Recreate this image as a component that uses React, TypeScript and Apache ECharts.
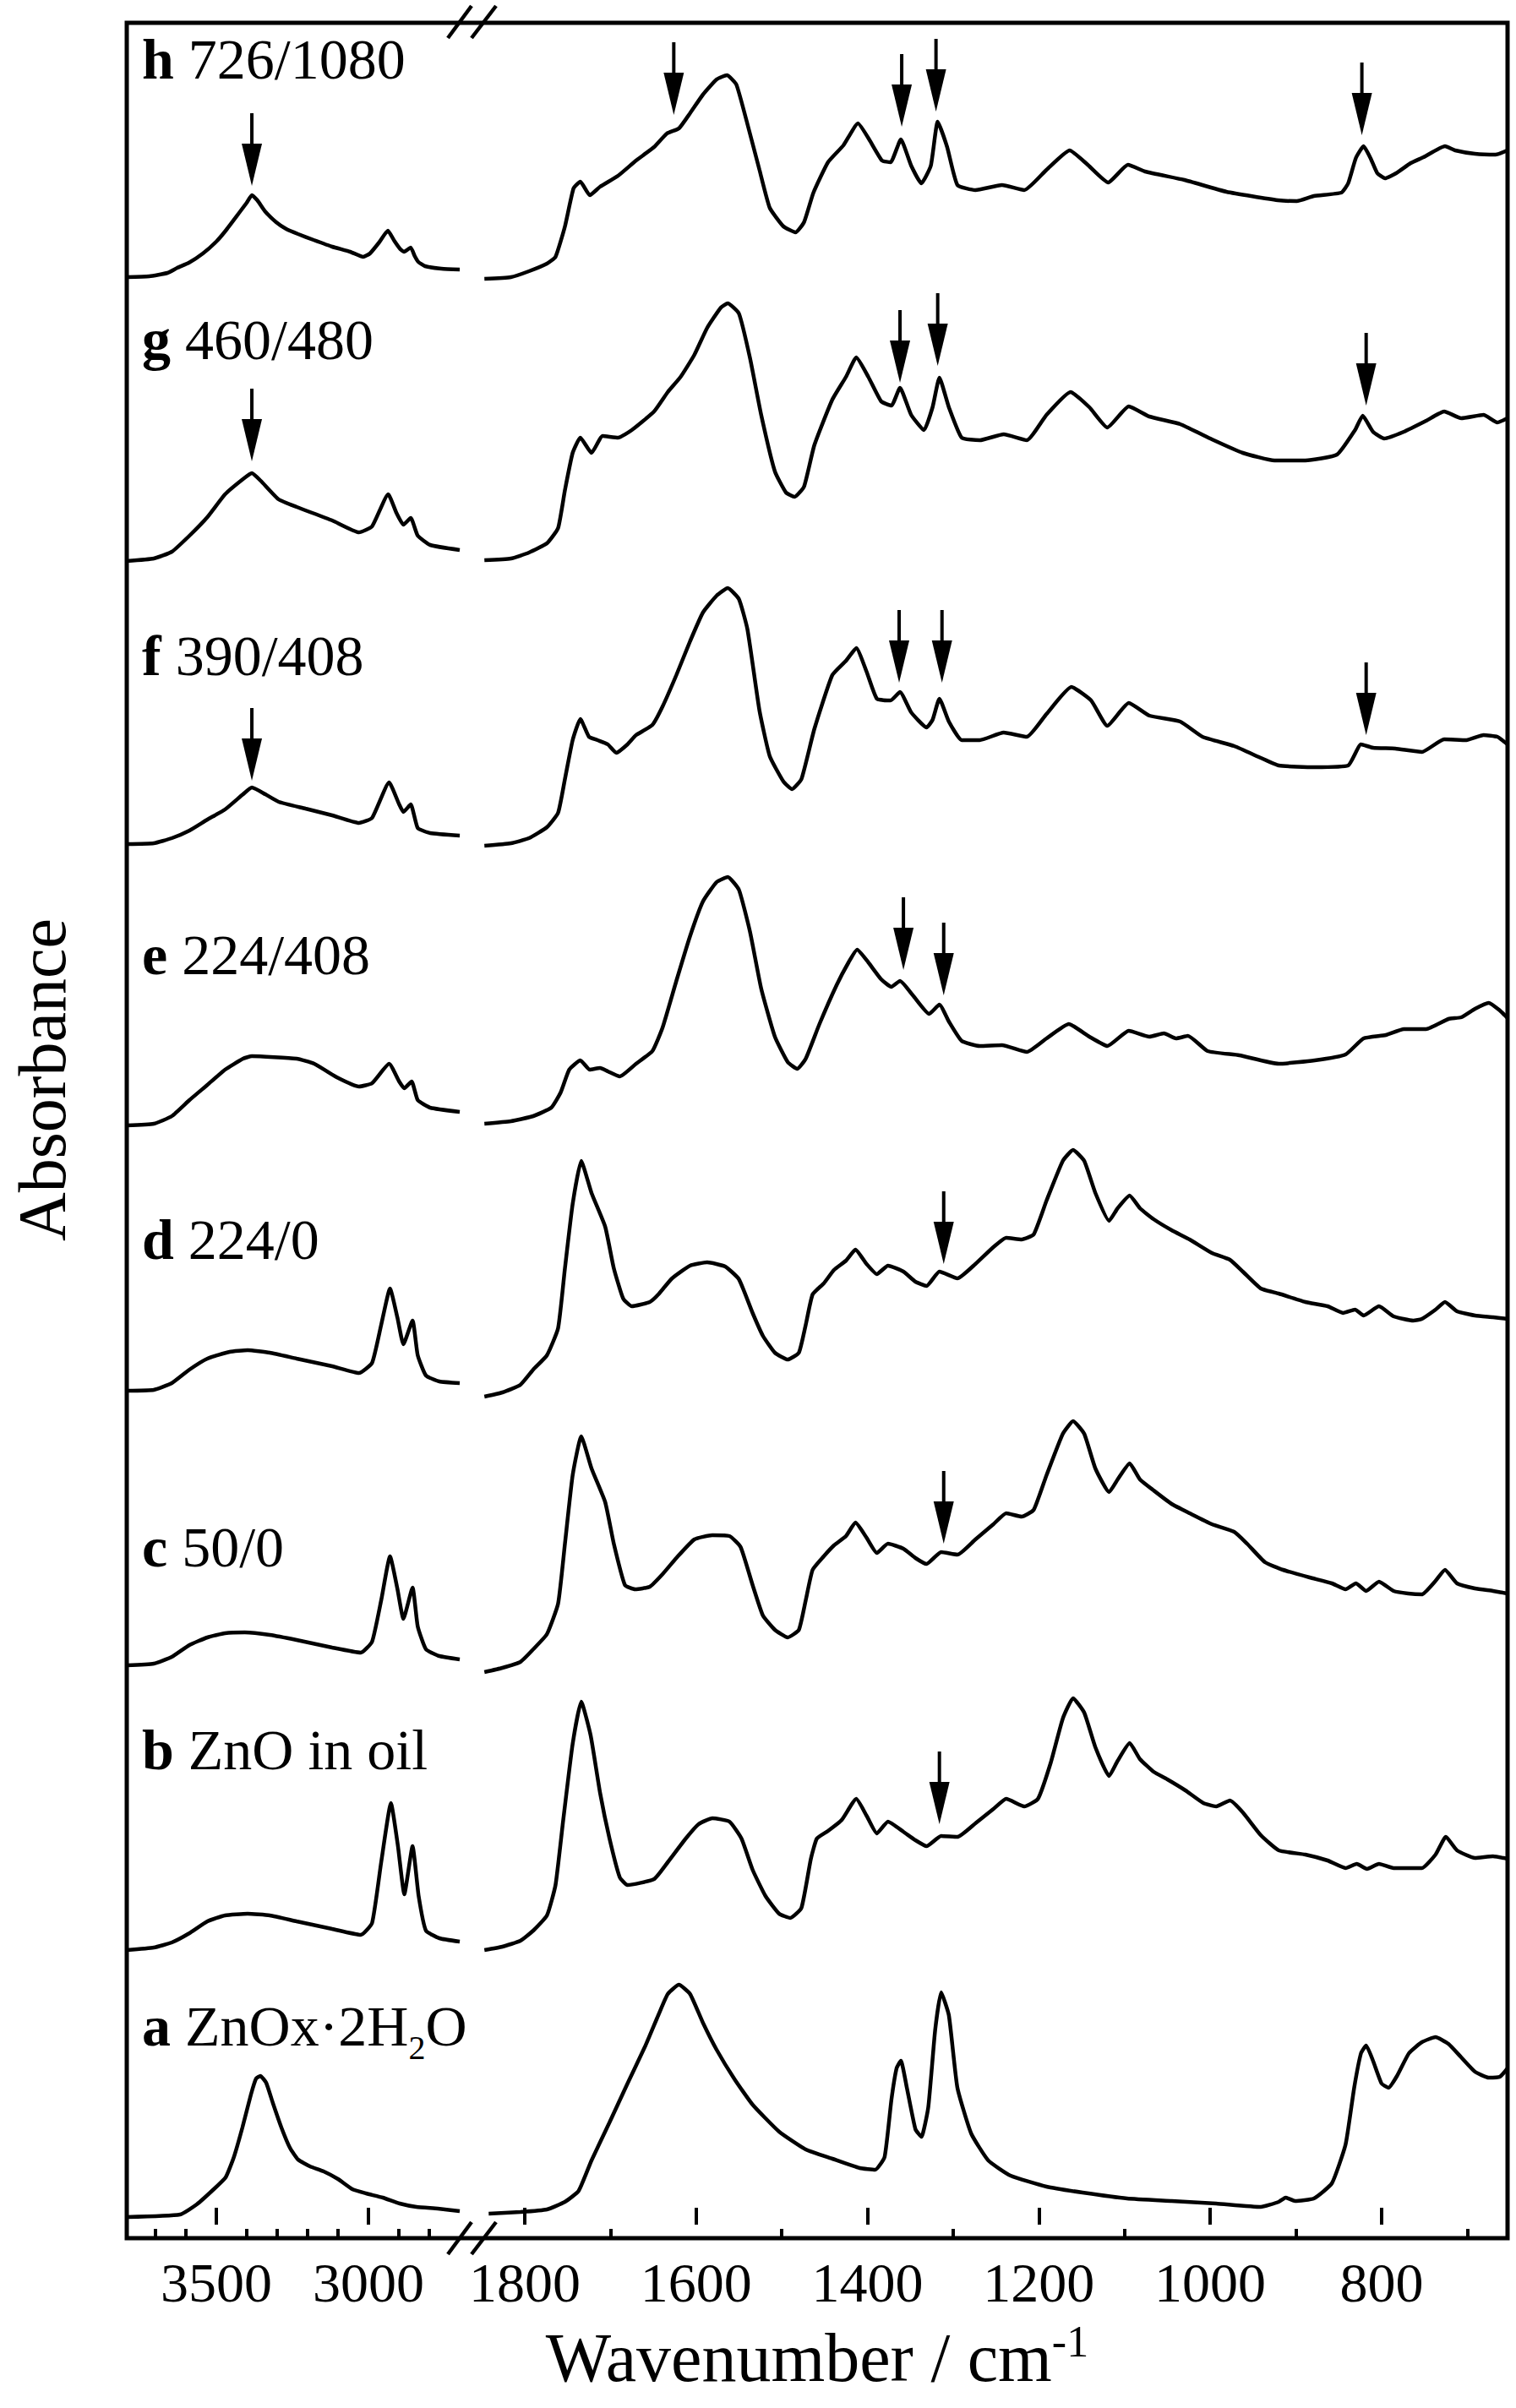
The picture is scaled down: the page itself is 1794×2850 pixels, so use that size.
import React, { useEffect, useRef } from 'react';
import * as echarts from 'echarts';

const FONT = '"Liberation Serif", "Times New Roman", serif';

// ---- axis ticks (wavenumber, cm-1) ----
const leftMajorTicks = [3500, 3000];
const leftMinorTicks = [3700, 3600, 3400, 3300, 3200, 3100, 2900, 2800];
const rightMajorTicks = [1800, 1600, 1400, 1200, 1000, 800];
const rightMinorTicks = [1700, 1500, 1300, 1100, 900, 700];

// ---- sample labels (top to bottom) ----
const sampleLetters = ['h', 'g', 'f', 'e', 'd', 'c', 'b', 'a'];
const sampleNames = ['726/1080', '460/480', '390/408', '224/408', '224/0', '50/0', 'ZnO in oil', 'ZnOx·2H2O'];

// ---- spectra: [wavenumber, absorbance (offset, a.u.)] ----
const hLeft = [[3794,2305],[3720,2306],[3660,2310],[3628,2316],[3590,2322],[3544,2333],[3500,2347],[3469,2360],[3425,2381],[3400,2393],[3383,2402],[3365,2396],[3340,2383],[3303,2370],[3270,2362],[3231,2356],[3180,2349],[3119,2341],[3060,2335],[3017,2329],[2995,2333],[2965,2346],[2936,2360],[2915,2348],[2895,2338],[2883,2335],[2861,2340],[2848,2330],[2836,2323],[2814,2318],[2760,2315],[2700,2314]];
const hRight = [[1847,2303],[1816,2305],[1795,2312],[1774,2321],[1764,2329],[1753,2365],[1743,2410],[1735,2418],[1724,2402],[1712,2412],[1691,2425],[1670,2443],[1649,2459],[1634,2475],[1620,2481],[1607,2499],[1592,2521],[1576,2539],[1564,2544],[1553,2533],[1540,2486],[1526,2432],[1514,2387],[1498,2365],[1484,2358],[1474,2370],[1463,2405],[1446,2441],[1428,2461],[1411,2487],[1398,2468],[1383,2443],[1373,2441],[1361,2468],[1349,2437],[1337,2416],[1326,2437],[1318,2489],[1307,2459],[1295,2414],[1274,2408],[1243,2414],[1217,2408],[1191,2432],[1164,2455],[1144,2439],[1119,2417],[1096,2438],[1076,2430],[1030,2420],[981,2406],[921,2396],[899,2395],[879,2401],[847,2405],[839,2416],[830,2446],[821,2460],[813,2446],[805,2428],[796,2422],[783,2428],[766,2440],[751,2447],[726,2460],[714,2455],[691,2451],[667,2450],[653,2455]];

const gLeft = [[3794,1969],[3705,1972],[3646,1980],[3588,1999],[3529,2021],[3471,2048],[3412,2066],[3383,2073],[3354,2064],[3295,2042],[3236,2033],[3119,2017],[3031,2003],[2988,2010],[2935,2048],[2908,2026],[2885,2012],[2861,2020],[2838,1999],[2797,1988],[2700,1982]];
const gRight = [[1847,1970],[1816,1972],[1795,1979],[1774,1990],[1761,2008],[1753,2053],[1744,2097],[1735,2115],[1722,2097],[1709,2117],[1691,2115],[1675,2124],[1649,2146],[1633,2169],[1618,2187],[1602,2213],[1587,2245],[1571,2269],[1563,2274],[1550,2262],[1537,2209],[1524,2142],[1508,2075],[1495,2050],[1485,2045],[1474,2057],[1462,2106],[1441,2160],[1425,2187],[1413,2210],[1399,2187],[1384,2158],[1372,2153],[1362,2174],[1349,2142],[1334,2124],[1324,2151],[1316,2186],[1305,2151],[1290,2115],[1269,2112],[1241,2119],[1214,2112],[1191,2142],[1163,2169],[1141,2151],[1120,2127],[1095,2152],[1071,2140],[1035,2131],[998,2113],[962,2097],[925,2088],[889,2088],[852,2095],[831,2124],[822,2141],[810,2122],[797,2114],[774,2122],[748,2135],[727,2146],[707,2138],[681,2142],[665,2133],[653,2138]];

const fLeft = [[3794,1634],[3705,1635],[3646,1641],[3588,1650],[3529,1663],[3471,1675],[3412,1693],[3383,1701],[3339,1693],[3295,1684],[3207,1676],[3119,1668],[3031,1659],[2988,1665],[2932,1707],[2899,1681],[2885,1672],[2861,1681],[2838,1653],[2797,1647],[2700,1644]];
const fRight = [[1847,1632],[1816,1635],[1795,1641],[1774,1654],[1761,1671],[1753,1711],[1744,1757],[1735,1782],[1725,1761],[1715,1757],[1703,1752],[1693,1742],[1680,1752],[1670,1763],[1651,1775],[1639,1797],[1623,1834],[1607,1874],[1592,1908],[1576,1928],[1563,1937],[1550,1924],[1540,1888],[1526,1792],[1514,1738],[1498,1708],[1488,1699],[1477,1711],[1462,1770],[1441,1834],[1425,1851],[1413,1866],[1401,1838],[1389,1806],[1373,1804],[1362,1814],[1349,1790],[1331,1772],[1324,1781],[1316,1806],[1305,1779],[1290,1757],[1269,1757],[1241,1766],[1214,1761],[1191,1788],[1162,1820],[1139,1804],[1120,1774],[1095,1801],[1071,1786],[1035,1779],[1009,1761],[972,1750],[941,1736],[920,1727],[878,1725],[839,1727],[824,1752],[810,1748],[784,1747],[753,1743],[727,1758],[701,1757],[681,1763],[665,1761],[653,1752]];

const eLeft = [[3794,1301],[3705,1303],[3646,1312],[3588,1331],[3529,1349],[3471,1367],[3412,1380],[3383,1383],[3236,1380],[3178,1374],[3104,1358],[3031,1347],[2988,1351],[2932,1374],[2899,1353],[2882,1345],[2858,1353],[2838,1331],[2797,1322],[2700,1317]];
const eRight = [[1847,1303],[1816,1306],[1790,1312],[1769,1322],[1758,1340],[1748,1367],[1735,1378],[1724,1367],[1712,1369],[1703,1365],[1689,1359],[1670,1374],[1651,1389],[1639,1417],[1623,1472],[1607,1525],[1592,1566],[1576,1589],[1563,1595],[1550,1580],[1537,1530],[1524,1463],[1508,1406],[1493,1376],[1482,1368],[1472,1380],[1456,1421],[1436,1467],[1422,1494],[1412,1509],[1399,1494],[1384,1474],[1372,1465],[1362,1472],[1347,1455],[1328,1433],[1316,1444],[1305,1424],[1290,1401],[1269,1395],[1243,1396],[1214,1388],[1191,1404],[1165,1421],[1141,1406],[1120,1395],[1095,1413],[1071,1406],[1054,1410],[1040,1404],[1026,1407],[1003,1389],[966,1384],[920,1374],[878,1378],[842,1385],[821,1404],[795,1408],[774,1415],[748,1415],[722,1427],[707,1429],[691,1439],[675,1446],[662,1437],[653,1428]];

const dLeft = [[3794,987],[3705,988],[3646,996],[3588,1012],[3529,1025],[3456,1033],[3397,1035],[3324,1032],[3236,1025],[3119,1016],[3031,1008],[2988,1020],[2958,1065],[2929,1108],[2905,1074],[2885,1042],[2855,1070],[2838,1029],[2811,1005],[2767,998],[2700,996]];
const dRight = [[1847,980],[1826,985],[1805,994],[1790,1012],[1774,1029],[1761,1061],[1753,1132],[1744,1208],[1734,1259],[1722,1221],[1706,1181],[1696,1132],[1685,1096],[1675,1087],[1654,1092],[1644,1101],[1628,1120],[1607,1135],[1587,1139],[1566,1134],[1550,1119],[1534,1079],[1522,1052],[1508,1032],[1493,1024],[1480,1032],[1472,1065],[1464,1101],[1451,1114],[1439,1130],[1425,1141],[1414,1154],[1401,1137],[1389,1125],[1376,1135],[1358,1128],[1344,1116],[1331,1111],[1316,1128],[1295,1120],[1274,1137],[1253,1157],[1238,1168],[1220,1166],[1206,1172],[1191,1212],[1172,1259],[1160,1272],[1147,1259],[1134,1221],[1118,1188],[1108,1203],[1094,1218],[1082,1203],[1066,1190],[1045,1177],[1024,1166],[998,1150],[977,1142],[962,1128],[941,1108],[920,1102],[889,1092],[863,1087],[845,1079],[831,1083],[821,1076],[803,1087],[786,1075],[763,1070],[753,1072],[737,1083],[726,1092],[712,1081],[691,1076],[670,1074],[653,1072]];

const cLeft = [[3794,662],[3705,664],[3646,672],[3588,686],[3529,695],[3471,700],[3406,701],[3324,698],[3236,692],[3119,683],[3025,677],[2988,690],[2958,739],[2929,791],[2905,753],[2885,717],[2855,754],[2838,708],[2811,681],[2767,673],[2700,669]];
const cRight = [[1847,654],[1826,659],[1805,666],[1790,681],[1774,699],[1761,735],[1753,806],[1744,887],[1734,933],[1722,895],[1706,855],[1696,806],[1683,757],[1671,752],[1654,755],[1639,770],[1623,789],[1602,811],[1581,816],[1561,815],[1548,802],[1534,757],[1522,721],[1508,704],[1493,695],[1480,704],[1472,739],[1464,775],[1451,791],[1439,804],[1425,815],[1414,831],[1401,813],[1389,795],[1376,806],[1358,800],[1344,789],[1331,782],[1314,796],[1295,793],[1274,811],[1253,829],[1238,842],[1220,838],[1206,846],[1191,887],[1172,936],[1160,951],[1147,936],[1134,895],[1118,867],[1108,882],[1094,901],[1082,882],[1066,869],[1045,853],[1024,842],[998,829],[972,820],[957,806],[936,784],[915,775],[884,766],[858,759],[842,752],[830,759],[818,750],[803,761],[786,750],[769,747],[753,746],[737,762],[726,775],[712,759],[691,753],[670,750],[653,747]];

const bLeft = [[3794,325],[3705,328],[3646,334],[3588,345],[3529,359],[3471,366],[3397,368],[3324,366],[3236,359],[3119,350],[3025,343],[2988,357],[2958,429],[2926,499],[2903,448],[2882,391],[2855,448],[2835,389],[2811,348],[2767,339],[2700,335]];
const bRight = [[1847,325],[1826,329],[1805,336],[1790,348],[1774,366],[1764,402],[1755,479],[1744,569],[1734,619],[1723,579],[1712,511],[1701,457],[1689,411],[1680,402],[1649,409],[1633,429],[1612,457],[1597,474],[1581,481],[1561,477],[1547,457],[1534,420],[1519,389],[1503,368],[1490,363],[1477,375],[1466,433],[1459,457],[1446,466],[1430,479],[1413,504],[1401,484],[1389,463],[1376,477],[1358,465],[1344,455],[1331,448],[1314,460],[1295,459],[1274,475],[1253,492],[1238,504],[1217,495],[1201,504],[1186,547],[1172,599],[1160,623],[1147,606],[1134,565],[1118,531],[1108,549],[1094,570],[1082,551],[1066,536],[1050,527],[1029,514],[1008,499],[993,495],[977,502],[962,488],[941,461],[920,443],[889,438],[863,431],[842,422],[829,427],[817,421],[803,427],[786,422],[753,422],[737,438],[725,459],[712,443],[691,434],[670,436],[653,433]];

const aLeft = [[3794,9],[3619,12],[3564,24],[3508,42],[3469,56],[3442,80],[3414,115],[3386,154],[3369,173],[3355,176],[3336,168],[3314,144],[3286,115],[3258,91],[3231,77],[3192,69],[3147,63],[3100,54],[3053,42],[3008,37],[2953,32],[2897,25],[2842,21],[2772,19],[2700,16]];
const aRight = [[1842,13],[1805,15],[1774,18],[1753,27],[1737,40],[1722,76],[1701,121],[1680,167],[1659,212],[1644,248],[1633,273],[1620,284],[1607,273],[1592,239],[1576,207],[1555,172],[1534,142],[1503,110],[1472,89],[1441,78],[1409,67],[1391,65],[1380,80],[1372,148],[1366,185],[1361,194],[1354,162],[1344,113],[1337,104],[1329,139],[1321,230],[1314,275],[1305,248],[1295,162],[1279,108],[1259,76],[1233,58],[1191,45],[1149,38],[1097,31],[1045,28],[993,25],[941,21],[920,27],[912,32],[901,28],[879,31],[858,49],[842,95],[832,162],[824,203],[818,212],[810,194],[800,167],[792,162],[782,176],[768,203],[753,216],[737,222],[722,214],[707,198],[691,181],[675,174],[662,175],[653,185]];

// ---- band-marker arrows: [wavenumber, absorbance at arrow tip] ----
const leftArrows = [[3383,2413],[3383,2087],[3383,1709]];
const rightArrows = [[1626,2497],[1360,2483],[1320,2501],[823,2473],[1362,2180],[1318,2200],[818,2153],[1363,1825],[1313,1825],[818,1763],[1358,1485],[1311,1455],[1311,1137],[1311,806],[1316,474]];

const leftTraces = [hLeft, gLeft, fLeft, eLeft, dLeft, cLeft, bLeft, aLeft];
const rightTraces = [hRight, gRight, fRight, eRight, dRight, cRight, bRight, aRight];

// layout (pixels)
const labelCenterY = [70, 402, 776, 1130, 1467, 1831, 2071, 2398];
const LABEL_X = 168;
const PLOT_L = 150, PLOT_T = 27, PLOT_R = 1784, PLOT_B = 2649, BREAK_X = 557;

function arrowRender(params: any, api: any) {
  const p = api.coord([api.value(0), api.value(1)]);
  const x = p[0], y = p[1];
  return {
    type: 'group',
    children: [
      { type: 'line', shape: { x1: x, y1: y - 86, x2: x, y2: y - 48 }, style: { stroke: '#000', lineWidth: 4 } },
      { type: 'polygon', shape: { points: [[x - 12, y - 50], [x + 12, y - 50], [x, y]] }, style: { fill: '#000' } },
    ],
  };
}

export default function App() {
  const ref = useRef<HTMLDivElement>(null);
  useEffect(() => {
    if (!ref.current) return;
    const chart = echarts.init(ref.current, null, { renderer: 'svg' });

    const lineStyle = { color: '#000', width: 4.5 };
    const series: any[] = [];
    leftTraces.forEach((d, i) => {
      series.push({ type: 'line', name: sampleLetters[i] + '-hi', xAxisIndex: 0, yAxisIndex: 0, data: d, symbol: 'none', smooth: 0.15, lineStyle, silent: true });
    });
    rightTraces.forEach((d, i) => {
      series.push({ type: 'line', name: sampleLetters[i] + '-lo', xAxisIndex: 2, yAxisIndex: 1, data: d, symbol: 'none', smooth: 0.15, lineStyle, silent: true });
    });
    series.push({ type: 'custom', xAxisIndex: 0, yAxisIndex: 0, data: leftArrows, renderItem: arrowRender, clip: false, z: 5 });
    series.push({ type: 'custom', xAxisIndex: 2, yAxisIndex: 1, data: rightArrows, renderItem: arrowRender, clip: false, z: 5 });

    const baseTok = { fontSize: 68, fontFamily: FONT, color: '#000', lineHeight: 90 };
    const labelGraphics = sampleLetters.map((l, i) => {
      let text = '{b|' + l + '}{n| ' + sampleNames[i] + '}';
      if (l === 'a') text = '{b|a}{n| ZnOx·2H}{s|2}{n|O}';
      return {
        type: 'text', x: LABEL_X, y: labelCenterY[i], z: 20,
        style: {
          text, align: 'left', verticalAlign: 'middle', fill: '#000',
          rich: {
            b: { ...baseTok, fontWeight: 'bold' },
            n: { ...baseTok },
            s: { fontSize: 40, fontFamily: FONT, color: '#000', lineHeight: 36, verticalAlign: 'bottom' },
          },
        },
      };
    });

    const breakLines = [
      [530, PLOT_T + 18, 558, PLOT_T - 20], [558, PLOT_T + 18, 587, PLOT_T - 20],
      [530, PLOT_B + 19, 558, PLOT_B - 19], [558, PLOT_B + 19, 587, PLOT_B - 19],
    ].map((s) => ({ type: 'line', z: 30, shape: { x1: s[0], y1: s[1], x2: s[2], y2: s[3] }, style: { stroke: '#000', lineWidth: 4.5 } }));

    const axisLabel = (vals: number[]) => ({
      customValues: vals, margin: 19, fontSize: 66, fontFamily: FONT, color: '#000',
      formatter: (v: number) => String(v),
    });
    const tick = (vals: number[], len: number) => ({
      show: true, inside: true, length: len, customValues: vals, lineStyle: { color: '#000', width: 4 },
    });

    const option: any = {
      animation: false,
      backgroundColor: '#ffffff',
      grid: [
        { left: PLOT_L, top: PLOT_T, width: BREAK_X - PLOT_L, height: PLOT_B - PLOT_T },
        { left: BREAK_X, top: PLOT_T, width: PLOT_R - BREAK_X, height: PLOT_B - PLOT_T },
      ],
      xAxis: [
        { gridIndex: 0, type: 'value', min: 2664, max: 3794, inverse: true, position: 'bottom',
          axisLine: { show: false }, splitLine: { show: false },
          axisTick: tick(leftMajorTicks, 20), axisLabel: axisLabel(leftMajorTicks) },
        { gridIndex: 0, type: 'value', min: 2664, max: 3794, inverse: true, position: 'bottom',
          axisLine: { show: false }, splitLine: { show: false },
          axisTick: tick(leftMinorTicks, 11), axisLabel: { show: false } },
        { gridIndex: 1, type: 'value', min: 653, max: 1863, inverse: true, position: 'bottom',
          axisLine: { show: false }, splitLine: { show: false },
          axisTick: tick(rightMajorTicks, 20), axisLabel: axisLabel(rightMajorTicks) },
        { gridIndex: 1, type: 'value', min: 653, max: 1863, inverse: true, position: 'bottom',
          axisLine: { show: false }, splitLine: { show: false },
          axisTick: tick(rightMinorTicks, 11), axisLabel: { show: false } },
      ],
      yAxis: [
        { gridIndex: 0, type: 'value', min: -16, max: 2606, show: false },
        { gridIndex: 1, type: 'value', min: -16, max: 2606, show: false },
      ],
      series,
      graphic: [
        { type: 'rect', z: 25, shape: { x: PLOT_L, y: PLOT_T, width: PLOT_R - PLOT_L, height: PLOT_B - PLOT_T },
          style: { fill: 'none', stroke: '#000', lineWidth: 5 } },
        ...breakLines,
        ...labelGraphics,
        { type: 'text', x: (PLOT_L + PLOT_R) / 2, y: 2790, z: 20,
          style: { text: '{n|Wavenumber / cm}{s|-1}', align: 'center', verticalAlign: 'middle', fill: '#000',
            rich: {
              n: { fontSize: 82, fontFamily: FONT, color: '#000', lineHeight: 90 },
              s: { fontSize: 52, fontFamily: FONT, color: '#000', lineHeight: 38, verticalAlign: 'top' },
            } } },
        { type: 'text', x: 50, y: 1278, rotation: Math.PI / 2, z: 20,
          style: { text: 'Absorbance', font: '80px ' + FONT, align: 'center', verticalAlign: 'middle', fill: '#000' } },
      ],
    };
    chart.setOption(option);
    return () => chart.dispose();
  }, []);
  return <div ref={ref} style={{ position: 'absolute', left: 0, top: 0, width: 1794, height: 2850 }} />;
}
